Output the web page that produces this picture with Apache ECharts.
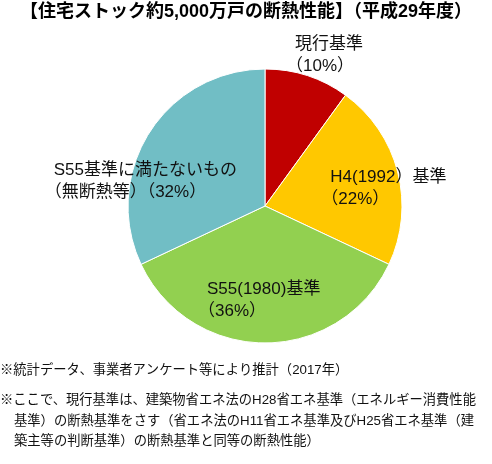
<!DOCTYPE html>
<html>
<head>
<meta charset="utf-8">
<script src="https://cdn.jsdelivr.net/npm/echarts@6/dist/echarts.min.js"></script>
<style>
  html, body { margin: 0; padding: 0; background: #fff; }
  #main { width: 492px; height: 464px; }
</style>
</head>
<body>
<div id="main"></div>
<script>
  // 住宅ストックの断熱性能（割合 %）
  const categories = ["現行基準", "H4(1992)基準", "S55(1980)基準", "S55基準に満たないもの"];
  const labelLine1 = ["現行基準", "H4(1992）基準", "S55(1980)基準", "S55基準に満たないもの"];
  const labelLine2 = ["（10%）", "（22%）", "（36%）", "（無断熱等）（32%）"];
  const shares = [10, 22, 36, 32];
  const colors = ["#C00000", "#FFC800", "#92D050", "#71BEC5"];
  // ラベルの位置調整（inside位置からのずれ）
  const labelShift = [[-1, -83], [-13, 0], [-67, 23], [-160, 14]];

  const notes = [
    "※統計データ、事業者アンケート等により推計（2017年）",
    "※ここで、現行基準は、建築物省エネ法のH28省エネ基準（エネルギー消費性能",
    "基準）の断熱基準をさす（省エネ法のH11省エネ基準及びH25省エネ基準（建",
    "築主等の判断基準）の断熱基準と同等の断熱性能）",
  ];

  const font = "'Liberation Sans', 'Noto Sans CJK JP', sans-serif";
  const myChart = echarts.init(document.getElementById("main"));

  const option = {
    animation: false,
    color: colors,
    title: {
      text: "【住宅ストック約5,000万戸の断熱性能】（平成29年度）",
      left: "center",
      top: -2,
      textStyle: { fontFamily: font, fontSize: 18, fontWeight: "bold", color: "#000" },
    },
    graphic: notes.map((t, i) => ({
      type: "text",
      left: i >= 2 ? 14 : 0,
      top: [364, 394, 415, 435][i],
      style: { text: t, font: "13.3px " + font, fill: "#111" },
    })),
    series: [
      {
        type: "pie",
        center: [265, 206],
        radius: 137,
        startAngle: 90,
        clockwise: true,
        itemStyle: { borderColor: "#fff", borderWidth: 1 },
        label: {
          show: true,
          position: "inside",
          fontFamily: font,
          fontSize: 17,
          lineHeight: 22,
          color: "#111",
          formatter: (p) => "{a|" + labelLine1[p.dataIndex] + "}\n" + labelLine2[p.dataIndex],
          rich: {
            // 全角括弧の左余白に合わせて1行目を右へずらす
            a: { fontFamily: font, fontSize: 17, lineHeight: 22, color: "#111", padding: [0, 0, 0, 9] },
          },
        },
        labelLine: { show: false },
        labelLayout: (p) => ({
          dx: labelShift[p.dataIndex][0],
          dy: labelShift[p.dataIndex][1],
          align: "left",
          verticalAlign: "middle",
        }),
        data: categories.map((c, i) => ({ name: c, value: shares[i] })),
      },
    ],
  };
  myChart.setOption(option);
</script>
</body>
</html>
